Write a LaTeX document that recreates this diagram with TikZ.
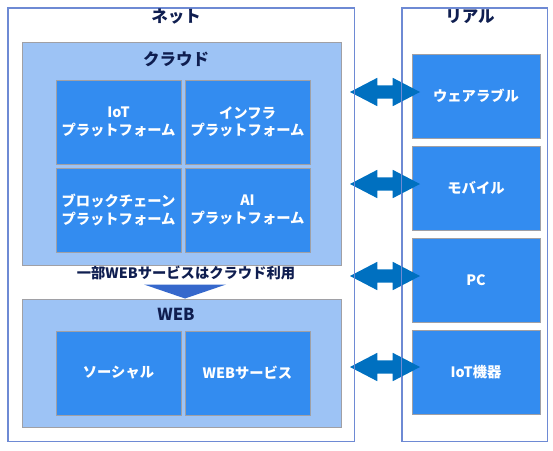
\documentclass[tikz,border=0pt]{standalone}
\usepackage{fontspec}
\setmainfont{Noto Sans CJK JP}
\usetikzlibrary{shapes.arrows}
\definecolor{netline}{RGB}{110,138,212}
\definecolor{cloudfill}{RGB}{157,195,245}
\definecolor{boxline}{RGB}{160,160,165}
\definecolor{itemfill}{RGB}{51,140,240}
\definecolor{arrowc}{RGB}{0,112,192}
\definecolor{tric}{RGB}{54,104,204}
\definecolor{navy}{RGB}{15,30,80}
\tikzset{
  outerbox/.style={draw=netline, line width=0.8pt, minimum width=#1, inner sep=0pt},
  groupbox/.style={fill=cloudfill, draw=boxline, line width=0.8pt, inner sep=0pt, minimum width=319pt},
  itembox/.style={fill=itemfill, draw=boxline, line width=0.8pt, inner sep=0pt,
    minimum width=125pt, minimum height=84pt, text=white, font=\fontsize{14.3}{17.5}\selectfont\bfseries, align=center},
  realitem/.style={itembox, minimum width=128pt},
  titletext/.style={text=navy, font=\fontsize{16.5}{19}\selectfont\bfseries, inner sep=0pt},
  dblarrow/.style={double arrow, fill=arrowc, draw=none, minimum height=70pt,
    inner xsep=0pt, inner ysep=6.5pt, double arrow head extend=7.5pt, double arrow tip angle=55}
}
\begin{document}
\begin{tikzpicture}[x=1pt,y=-1pt]
\useasboundingbox (0,0) rectangle (553,450);
% outer frames
\node[outerbox=346pt, minimum height=433pt] (net) at (181,224.5) {};
\node[outerbox=145pt, minimum height=433pt] (real) at (474.5,224.5) {};
\node[titletext] (nettitle) at (176,17) {ネット};
\node[titletext] (realtitle) at (470,17) {リアル};
% cloud group
\node[groupbox, minimum height=223pt] (cloud) at (181.5,153.5) {};
\node[titletext] (cloudtitle) at (176,59) {クラウド};
\node[itembox] (iot) at (118.5,122) {IoT\\プラットフォーム};
\node[itembox] (infra) at (247.5,122) {インフラ\\プラットフォーム};
\node[itembox] (bc) at (118.5,210) {ブロックチェーン\\プラットフォーム};
\node[itembox] (ai) at (247.5,210) {AI\\プラットフォーム};
% label and triangle
\node[text=navy, font=\fontsize{14.3}{16}\selectfont\bfseries, inner sep=0pt] (note) at (186,273) {一部WEBサービスはクラウド利用};
\coordinate (tri) at (185,284.5);
\fill[tric] (tri) ++(-41,0) -- ++(82,0) -- ++(-41,14) -- cycle;
% web group
\node[groupbox, minimum height=128pt] (web) at (181.5,363) {};
\node[titletext] (webtitle) at (176,314) {WEB};
\node[itembox] (social) at (118.5,373) {ソーシャル};
\node[itembox] (websvc) at (247.5,373) {WEBサービス};
% real items
\node[realitem] (wear) at (476,96) {ウェアラブル};
\node[realitem] (mobile) at (476,188) {モバイル};
\node[realitem] (pc) at (476,280) {PC};
\node[realitem] (iotdev) at (476,372) {IoT機器};
% double arrows
\node[dblarrow] (a1) at (385,92) {};
\node[dblarrow] (a2) at (385,184) {};
\node[dblarrow] (a3) at (385,276) {};
\node[dblarrow] (a4) at (385,367) {};
% frame borders over the arrows
\draw[netline, line width=0.8pt] (net.north west) rectangle (net.south east);
\draw[netline, line width=0.8pt] (real.north west) rectangle (real.south east);
\end{tikzpicture}
\end{document}
